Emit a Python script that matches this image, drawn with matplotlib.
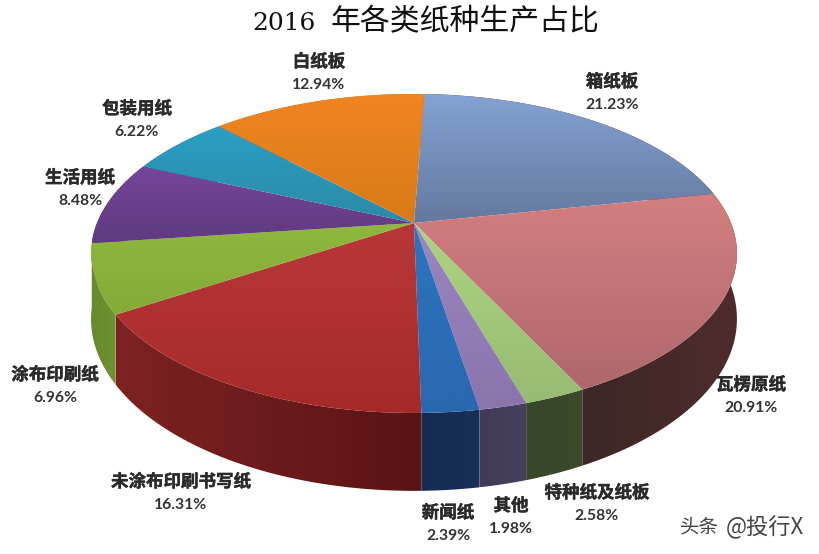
import numpy as np
import matplotlib
matplotlib.use('Agg')
import matplotlib.pyplot as plt
from matplotlib.colors import to_rgb
from matplotlib.patches import Polygon
import matplotlib.patheffects as pe

# Shares clockwise from the top of the pie
names = ['箱纸板', '瓦楞原纸', '特种纸及纸板', '其他', '新闻纸', '未涂布印刷书写纸',
         '涂布印刷纸', '生活用纸', '包装用纸', '白纸板']
shares = [21.23, 20.91, 2.58, 1.98, 2.39, 16.31, 6.96, 8.48, 6.22, 12.94]

# Colours for the top face (far edge, near edge) and the rim (start, end)
top_far = ['#84a2d4', '#d47f7f', '#aed482', '#9a86c0', '#2a74c0', '#b83838',
           '#8fb83e', '#75459a', '#2a9fc2', '#f08522']
top_near = ['#64799f', '#ae676c', '#96bb72', '#8a74ae', '#2a68ae', '#a62a2a',
            '#84aa38', '#603a80', '#2c8aa8', '#d87a18']
rim_start = ['#5a3030', '#4f2c2c', '#3b4a28', '#47405c', '#17305a', '#5a1414',
             '#6f9232', '#5a3078', '#1f7a94', '#c06a10']
rim_end = ['#5a3030', '#3d2626', '#37472a', '#423a58', '#152c52', '#7e2222',
           '#668a2c', '#5a3078', '#1f7a94', '#c06a10']

label_pos = [(612, 82), (751, 385), (597, 493), (511, 506), (448, 513), (181, 482),
             (55, 375), (80, 178), (137, 109), (319, 62)]

# Perspective pie geometry, in image pixels
cx, cy = 414, 223
rx, ry = 317, 153.7
persp = 0.191
depth = 63
start = 2.2


def project(theta):
    u, v = np.sin(theta), np.cos(theta)
    w = 1 + persp * v
    return cx + rx * u / w, cy - ry * v / w, depth / w


def gradient_patch(pts, c0, c1, horizontal=False, zorder=3):
    # gradient image clipped to a polygon
    clip = Polygon(pts, closed=True, transform=ax.transData, facecolor='none', edgecolor='none')
    ax.add_patch(clip)
    t = np.linspace(0, 1, 128)
    t = t[None, :, None] if horizontal else t[:, None, None]
    grad = np.array(to_rgb(c0))[None, None, :] * (1 - t) + np.array(to_rgb(c1))[None, None, :] * t
    im = ax.imshow(grad, extent=(pts[:, 0].min(), pts[:, 0].max(), pts[:, 1].max(), pts[:, 1].min()),
                   aspect='auto', zorder=zorder, interpolation='bilinear')
    im.set_clip_path(clip)


fig = plt.figure(figsize=(8.2, 5.54), dpi=100)
ax = fig.add_axes([0, 0, 1, 1])
ax.axis('off')

edges = np.radians(start + np.cumsum([0] + shares) * 3.6)

# Rim first, back slices before front ones, the top faces cover what faces away
mid_v = np.cos((edges[:-1] + edges[1:]) / 2)
for i in np.argsort(-mid_v):
    th = np.linspace(edges[i], edges[i + 1], 60)
    xs, ys, ds = project(th)
    if xs[0] > xs[-1]:
        c0, c1 = rim_end[i], rim_start[i]
    else:
        c0, c1 = rim_start[i], rim_end[i]
    pts = np.column_stack([np.r_[xs, xs[::-1]], np.r_[ys, (ys + ds)[::-1]]])
    gradient_patch(pts, c0, c1, horizontal=True, zorder=2)

# Top faces, a vertical gradient clipped to each wedge
for i in range(len(shares)):
    th = np.linspace(edges[i], edges[i + 1], 80)
    xs, ys, _ = project(th)
    pts = np.column_stack([np.r_[cx, xs], np.r_[cy, ys]])
    gradient_patch(pts, top_far[i], top_near[i], zorder=3)
ax.set_xlim(0, 820)
ax.set_ylim(554, 0)

# Labels
thick = [pe.withStroke(linewidth=0.3, foreground='#2a2a2a')]
for name, share, (lx, ly) in zip(names, shares, label_pos):
    ax.text(lx, ly, name, family=['Noto Sans CJK SC', 'DejaVu Sans'], fontsize=12.6, weight='bold',
            color='#2a2a2a', ha='center', va='center', zorder=5, path_effects=thick)
    ax.text(lx, ly + 23, f'{share:.2f}%', family='Lato', fontsize=11.3, weight='bold',
            color='#333333', ha='center', va='center', zorder=5)

# Title and watermark
ax.text(252, 23, '2016', family='DejaVu Serif', fontsize=18, color='#111111', ha='left', va='center')
ax.text(331, 22, '年各类纸种生产占比', family=['Noto Sans CJK SC', 'DejaVu Sans'], fontsize=21.5,
        color='#111111', ha='left', va='center')
ax.text(680, 527, '头条', family=['Noto Sans CJK SC', 'DejaVu Sans'], fontsize=14,
        weight='light', color='#444444', ha='left', va='center')
ax.text(726, 527, '@投行X', family=['Noto Sans CJK SC', 'DejaVu Sans'], fontsize=16,
        weight='light', color='#444444', ha='left', va='center')

fig.savefig('out.png', dpi=100)
